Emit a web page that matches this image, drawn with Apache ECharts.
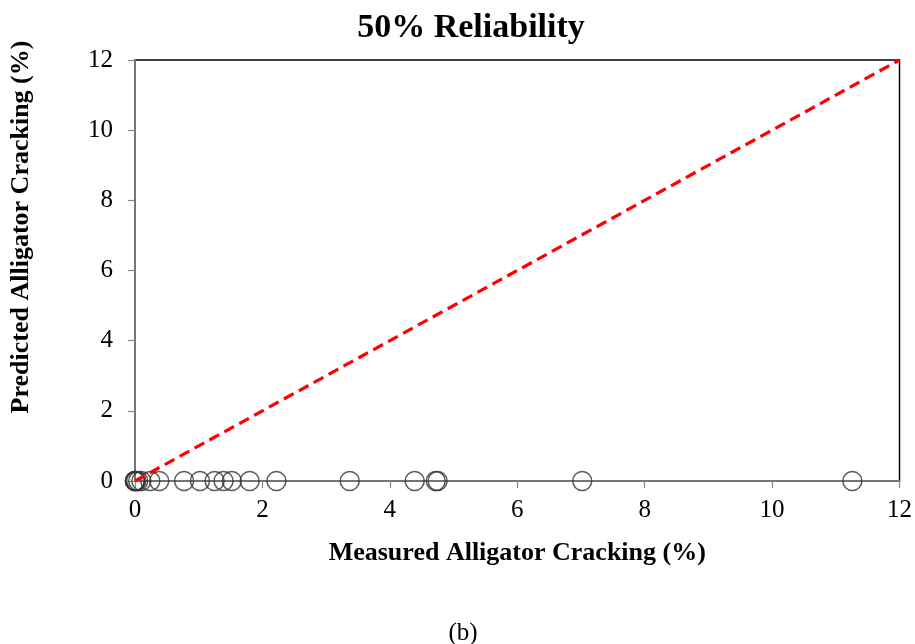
<!DOCTYPE html>
<html>
<head>
<meta charset="utf-8">
<script src="https://cdn.jsdelivr.net/npm/echarts@6/dist/echarts.min.js"></script>
<style>
  html, body { margin: 0; padding: 0; background: #fff; }
  #chart { width: 915px; height: 644px; }
</style>
</head>
<body>
<div id="chart"></div>
<script>
// Measured cracking (%) for each section; predicted values at 50% reliability
const measured = [0, 0, 0, 0.02, 0.05, 0.1, 0.24, 0.38, 0.77, 1.02, 1.25, 1.39, 1.52, 1.8, 2.22, 3.37, 4.39, 4.72, 4.75, 7.02, 11.26];
const predicted = [0, 0, 0, 0, 0, 0, 0, 0, 0, 0, 0, 0, 0, 0, 0, 0, 0, 0, 0, 0, 0];
// Line of equality
const equalityX = [0, 12];
const equalityY = [0, 12];

const font = '"Liberation Serif", "Times New Roman", serif';

const chart = echarts.init(document.getElementById('chart'));
chart.setOption({
  animation: false,
  backgroundColor: '#fff',
  title: {
    text: '50% Reliability',
    left: 466, top: 6, textAlign: 'center',
    textStyle: { fontFamily: font, fontSize: 34, fontWeight: 'bold', color: '#000' }
  },
  graphic: [
    {
      type: 'text', x: 463, y: 633,
      style: { text: '(b)', font: '25px ' + font, fill: '#000', align: 'center', verticalAlign: 'middle' }
    },
    {
      type: 'text', x: 21, y: 227, rotation: Math.PI / 2,
      style: { text: 'Predicted Alligator Cracking (%)', font: 'bold 26px ' + font, fill: '#000', align: 'center', verticalAlign: 'middle' }
    }
  ],
  grid: {
    left: 135, right: 15, top: 60, bottom: 163,
    show: true, borderColor: '#000', borderWidth: 1.5, backgroundColor: 'transparent'
  },
  xAxis: {
    type: 'value', min: 0, max: 12, interval: 2,
    name: 'Measured Alligator Cracking (%)',
    nameLocation: 'middle', nameGap: 59,
    nameTextStyle: { fontFamily: font, fontSize: 26, fontWeight: 'bold', color: '#000' },
    axisLine: { show: true, onZero: false, lineStyle: { color: '#888', width: 1.5 } },
    axisTick: { show: true, inside: false, length: 7, lineStyle: { color: '#888', width: 1.2 } },
    axisLabel: { fontFamily: font, fontSize: 25, color: '#000', margin: 17 },
    splitLine: { show: false }
  },
  yAxis: {
    type: 'value', min: 0, max: 12, interval: 2,
    axisLine: { show: true, onZero: false, lineStyle: { color: '#888', width: 1.5 } },
    axisTick: { show: true, inside: false, length: 7, lineStyle: { color: '#888', width: 1.2 } },
    axisLabel: { fontFamily: font, fontSize: 25, color: '#000', margin: 22 },
    splitLine: { show: false }
  },
  series: [
    {
      type: 'line',
      data: equalityX.map((x, i) => [x, equalityY[i]]),
      showSymbol: false,
      lineStyle: { color: '#ff0000', width: 3.2, type: [11, 6] },
      z: 3
    },
    {
      type: 'scatter',
      data: measured.map((x, i) => [x, predicted[i]]),
      symbol: 'circle', symbolSize: 19,
      itemStyle: { color: 'rgba(0,0,0,0)', borderColor: '#333', borderWidth: 1.5 },
      z: 2
    }
  ]
});
</script>
</body>
</html>
